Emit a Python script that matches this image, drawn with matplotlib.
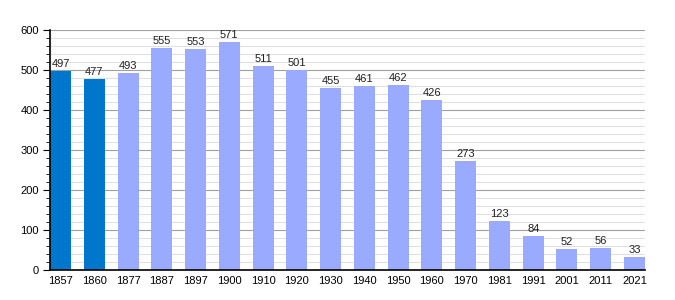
import matplotlib
matplotlib.use("Agg")
import matplotlib.pyplot as plt
from matplotlib.ticker import MultipleLocator

years = ["1857", "1860", "1877", "1887", "1897", "1900", "1910", "1920", "1930",
         "1940", "1950", "1960", "1970", "1981", "1991", "2001", "2011", "2021"]
population = [497, 477, 493, 555, 553, 571, 511, 501, 455, 461, 462, 426, 273,
              123, 84, 52, 56, 33]
dark_count = 2

plt.rcParams['font.family'] = ['Liberation Sans', 'DejaVu Sans']
fig = plt.figure(figsize=(6.75, 3.0), dpi=100)
ax = fig.add_axes([50/675, 30/300, 595/675, 240/300])

w = 0.622
x = list(range(len(years)))
colors = ['#0077cc' if i < dark_count else '#99aaff' for i in x]
ax.set_axisbelow(True)
ax.yaxis.set_major_locator(MultipleLocator(100))
ax.yaxis.set_minor_locator(MultipleLocator(20))
ax.grid(axis='y', which='minor', color='#e0e0e0', linewidth=0.8)
ax.grid(axis='y', which='major', color='#a0a0a0', linewidth=0.8)
bars = ax.bar(x, population, width=w, color=colors, zorder=2)
for xi, v in zip(x, population):
    ax.text(xi, v + 5, str(v), ha='center', va='bottom', fontsize=8, color='#222222')

ax.set_xlim(-w/2, len(years) - 1 + w/2)
ax.set_ylim(0, 600)
ax.set_xticks(x)
ax.set_xticklabels(years, fontsize=8)
ax.tick_params(axis='x', length=0, pad=4)
ax.tick_params(axis='y', which='major', length=5, labelsize=8, pad=3)
ax.tick_params(axis='y', which='minor', length=3)
for s in ['top', 'right']:
    ax.spines[s].set_visible(False)
ax.spines['left'].set_linewidth(1.2)
ax.spines['bottom'].set_linewidth(1.2)

fig.savefig("out.png", dpi=100)
